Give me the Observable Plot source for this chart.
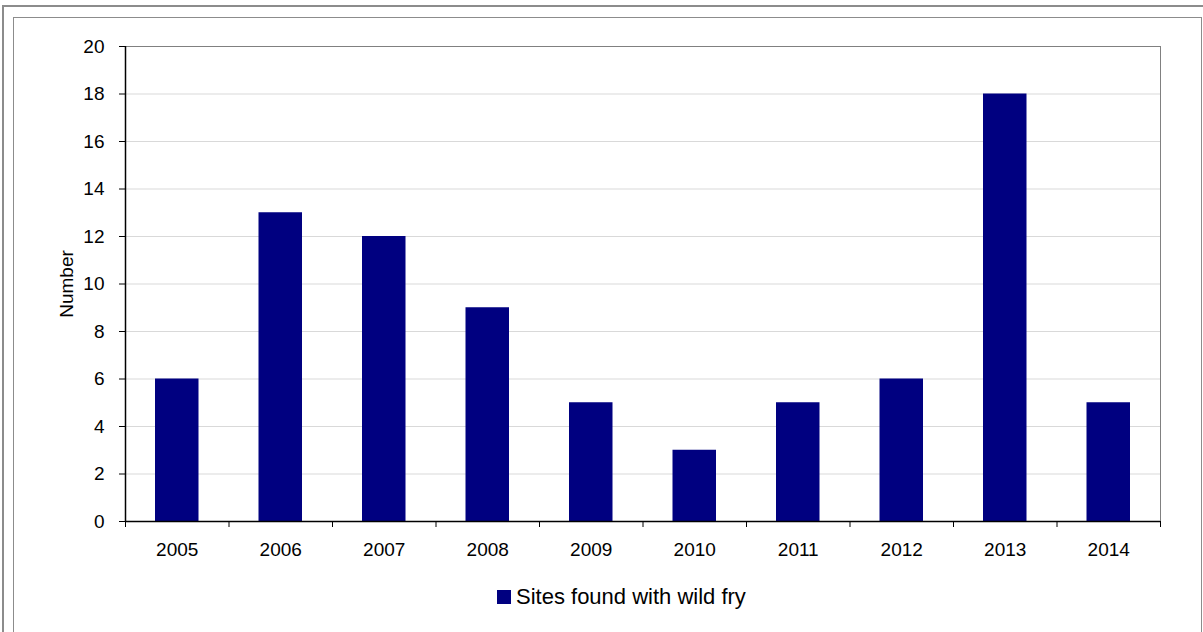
<!DOCTYPE html>
<html>
<head>
<meta charset="utf-8">
<script src="https://cdn.jsdelivr.net/npm/d3@7"></script>
<script src="https://cdn.jsdelivr.net/npm/@observablehq/plot@0.6"></script>
<style>
  html, body { margin: 0; padding: 0; background: #fff; overflow: hidden; }
  #page { position: relative; width: 1203px; height: 632px; overflow: hidden; font-family: "Liberation Sans", Arial, sans-serif; }
  #chart { position: absolute; left: 0; top: 0; }
  .outer-frame { position: absolute; left: 2px; top: 5px; width: 1300px; height: 800px; border-left: 2px solid #8c8c8c; border-top: 2px solid #8c8c8c; pointer-events: none; }
  .inner-frame { position: absolute; left: 13px; top: 17px; width: 1187px; height: 800px; border: 1px solid #8c8c8c; pointer-events: none; }
  .legend { position: absolute; left: 497px; top: 584px; display: flex; align-items: center; gap: 5px; font-size: 22px; color: #000; }
  .legend .swatch { width: 14px; height: 14px; background: #000080; }
</style>
</head>
<body>
<div id="page">
  <div id="chart"></div>
  <div class="outer-frame"></div>
  <div class="inner-frame"></div>
  <div class="legend"><span class="swatch"></span><span>Sites found with wild fry</span></div>
</div>
<script>
// Number of sites where wild fry were found, by survey year
const years = [2005, 2006, 2007, 2008, 2009, 2010, 2011, 2012, 2013, 2014];
const sites = [6, 13, 12, 9, 5, 3, 5, 6, 18, 5];
const yTicks = [0, 2, 4, 6, 8, 10, 12, 14, 16, 18, 20];
const seriesName = "Sites found with wild fry";

// one slot per year on a linear axis: slot i spans [i, i + 1]
const rows = years.map((year, i) => ({year, slot: i, count: sites[i]}));
const slotEdges = d3.range(years.length + 1);
const slotCenters = years.map((_, i) => i + 0.5);

const chart = Plot.plot({
  width: 1203,
  height: 632,
  marginLeft: 125,
  marginRight: 43,
  marginTop: 46,
  marginBottom: 111,
  style: {background: "transparent", fontFamily: "'Liberation Sans', Arial, sans-serif", fontSize: "19px", color: "#000"},
  x: {type: "linear", domain: [0, years.length]},
  y: {domain: [0, 20]},
  marks: [
    Plot.gridY(yTicks.filter(t => t > 0 && t < 20), {stroke: "#d9d9d9", strokeOpacity: 1}),
    Plot.frame({stroke: "#808080"}),
    Plot.rectY(rows, {x: "slot", interval: 1, y: "count", fill: "#000080", insetLeft: 30, insetRight: 30}),
    // boundary ticks between years
    Plot.axisX({ticks: slotEdges, tickSize: 6, tickFormat: () => "", stroke: "#000", label: null}),
    // year labels under each slot
    Plot.axisX({ticks: slotCenters, tickSize: 0, tickPadding: 21, tickFormat: v => String(years[Math.floor(v)]), label: null, fill: "#000"}),
    Plot.axisY({ticks: yTicks, tickSize: 6, tickPadding: 15, stroke: "#000", fill: "#000",
      label: "Number", labelAnchor: "center", labelArrow: "none", labelOffset: 66}),
    Plot.ruleX([0], {stroke: "#000", strokeWidth: 1.5}),
    Plot.ruleY([0], {stroke: "#000", strokeWidth: 1.5})
  ]
});
chart.setAttribute("aria-label", seriesName);
document.getElementById("chart").appendChild(chart);
</script>
</body>
</html>
